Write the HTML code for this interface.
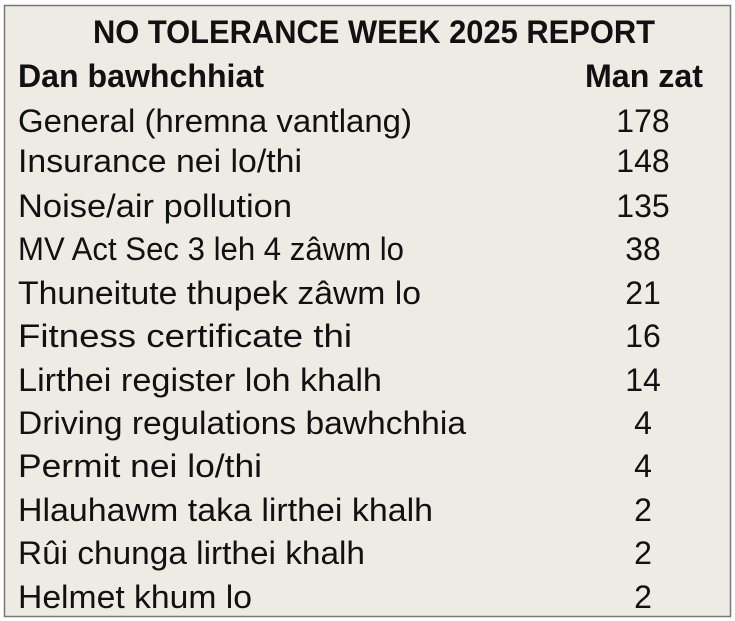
<!DOCTYPE html>
<html><head><style>
html,body{margin:0;padding:0;background:#fff;}
svg{display:block;}
text{font-family:"Liberation Sans",sans-serif;font-size:32px;fill:#111;}
.b{font-weight:bold;}
</style></head><body>
<svg width="735" height="621" xmlns="http://www.w3.org/2000/svg">
<rect x="4.5" y="5.5" width="726" height="611" fill="#edebe4" stroke="#777" stroke-width="1.5"/>
<text class="b" x="93" y="43" textLength="562" lengthAdjust="spacingAndGlyphs">NO TOLERANCE WEEK 2025 REPORT</text>
<text class="b" x="18" y="87" textLength="246" lengthAdjust="spacingAndGlyphs">Dan bawhchhiat</text>
<text class="b" x="585" y="87" textLength="118" lengthAdjust="spacingAndGlyphs">Man zat</text>
<text x="18" y="132" textLength="394" lengthAdjust="spacingAndGlyphs">General (hremna vantlang)</text>
<text x="18" y="172" textLength="284" lengthAdjust="spacingAndGlyphs">Insurance nei lo/thi</text>
<text x="18" y="217" textLength="274" lengthAdjust="spacingAndGlyphs">Noise/air pollution</text>
<text x="18" y="260" textLength="386" lengthAdjust="spacingAndGlyphs">MV Act Sec 3 leh 4 zâwm lo</text>
<text x="18" y="304" textLength="403" lengthAdjust="spacingAndGlyphs">Thuneitute thupek zâwm lo</text>
<text x="18" y="347" textLength="334" lengthAdjust="spacingAndGlyphs">Fitness certificate thi</text>
<text x="18" y="391" textLength="364" lengthAdjust="spacingAndGlyphs">Lirthei register loh khalh</text>
<text x="18" y="434" textLength="448" lengthAdjust="spacingAndGlyphs">Driving regulations bawhchhia</text>
<text x="18" y="477" textLength="244" lengthAdjust="spacingAndGlyphs">Permit nei lo/thi</text>
<text x="18" y="521" textLength="415" lengthAdjust="spacingAndGlyphs">Hlauhawm taka lirthei khalh</text>
<text x="18" y="564" textLength="347" lengthAdjust="spacingAndGlyphs">Rûi chunga lirthei khalh</text>
<text x="18" y="608" textLength="234" lengthAdjust="spacingAndGlyphs">Helmet khum lo</text>
<g text-anchor="middle">
<text x="643" y="132">178</text>
<text x="643" y="172">148</text>
<text x="643" y="217">135</text>
<text x="643" y="260">38</text>
<text x="643" y="304">21</text>
<text x="643" y="347">16</text>
<text x="643" y="391">14</text>
<text x="643" y="434">4</text>
<text x="643" y="477">4</text>
<text x="643" y="521">2</text>
<text x="643" y="564">2</text>
<text x="643" y="608">2</text>
</g>
</svg>
</body></html>
